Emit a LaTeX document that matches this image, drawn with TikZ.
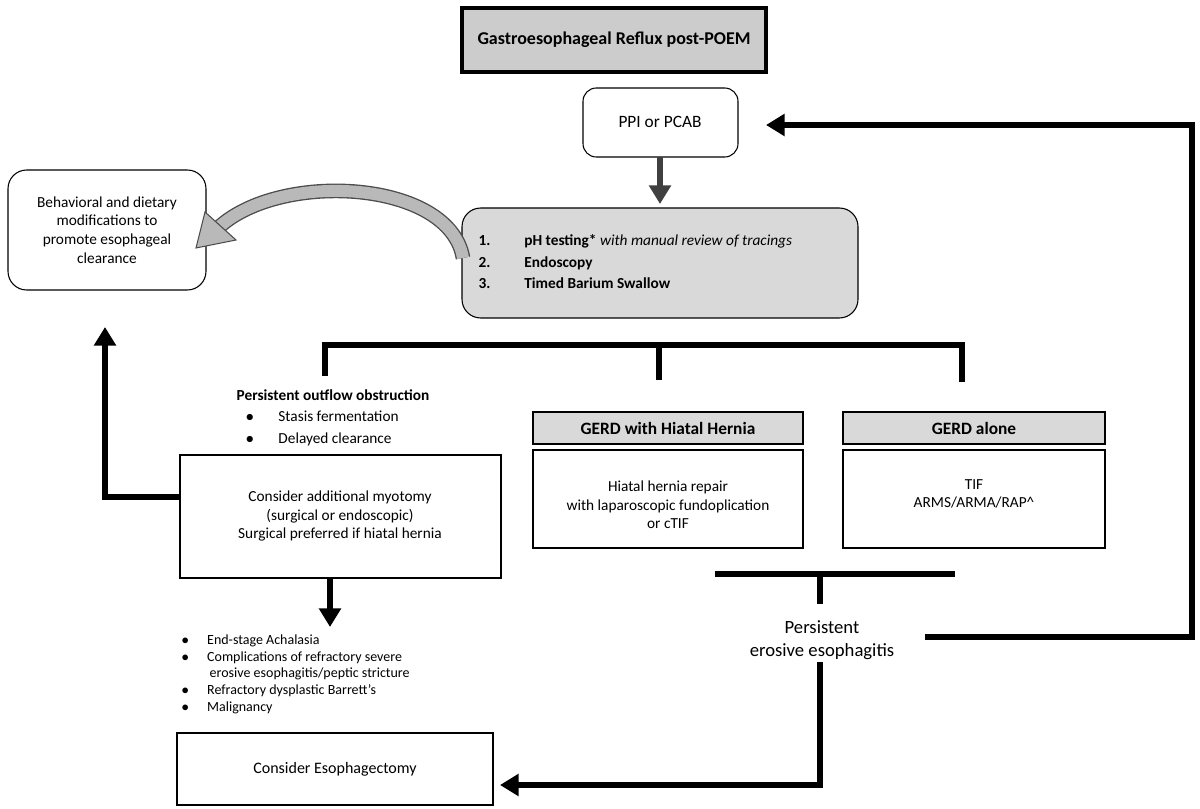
\documentclass[tikz,border=0pt]{standalone}
\usepackage{fontspec}
\setmainfont{Carlito}
\usetikzlibrary{arrows.meta}
\begin{document}
\begin{tikzpicture}[x=0.75pt,y=-0.75pt,
 fat/.style={line width=5pt,-{Triangle[length=14pt,width=16pt]}},
 fatline/.style={line width=5pt},
 txt/.style={font=\fontsize{11.5}{14}\selectfont}]
\useasboundingbox (0,0) rectangle (1200,809);
\draw[line width=3pt,fill=gray!40] (462,8) rectangle (766,72);
\node[font=\fontsize{13.5}{16}\selectfont\bfseries] (titletext) at (614,40) {Gastroesophageal Reflux post-POEM};
\draw[line width=0.8pt,rounded corners=10pt] (583,88) rectangle (738,157);
\node[font=\fontsize{13}{15}\selectfont] (ppi) at (660,122) {PPI or PCAB};
\coordinate (ppib) at (660,157);
\coordinate (testt) at (660,204);
\draw[fat,black!75] (ppib) -- (testt);
\draw[line width=0.8pt,rounded corners=14pt,fill=gray!30] (462,208) rectangle (858,318);
\node[txt,anchor=north west,align=left] (tests) at (474,230) {%
\textbf{1.}\hspace{2.2em}\textbf{pH testing*} \textit{with manual review of tracings}\\[2pt]
\textbf{2.}\hspace{2.2em}\textbf{Endoscopy}\\[2pt]
\textbf{3.}\hspace{2.2em}\textbf{Timed Barium Swallow}};
\draw[line width=0.8pt,rounded corners=14pt] (8,170) rectangle (206,290);
\node[txt,align=center] (beh) at (107,230) {Behavioral and dietary\\modifications to\\promote esophageal\\clearance};
\coordinate (cs) at (463,258);
\draw[line width=11pt,black!70] (cs) .. controls (450,180) and (280,170) .. (218,228);
\draw[line width=9pt,gray!55] (cs) .. controls (450,180) and (280,170) .. (218,228);
\fill[gray!55,draw=black!70,line width=0.8pt] (196,248) -- (205,212) -- (236,240) -- cycle;
\draw[fatline] (322,345) -- (965,345);
\draw[fatline] (325,343) -- (325,376);
\draw[fatline] (659,343) -- (659,380);
\draw[fatline] (962,343) -- (962,382);
\node[txt,anchor=north west,align=left] (obs) at (232,385) {\textbf{Persistent outflow obstruction}\\[2pt]
\hspace{0.6em}$\bullet$\hspace{1.6em}Stasis fermentation\\[2pt]
\hspace{0.6em}$\bullet$\hspace{1.6em}Delayed clearance};
\draw[line width=0.8pt] (180,455) rectangle (501,578);
\node[txt,align=center] (myo) at (340,516) {Consider additional myotomy\\(surgical or endoscopic)\\Surgical preferred if hiatal hernia};
\draw[line width=0.8pt,fill=gray!30] (533,412) rectangle (803,444);
\node[font=\fontsize{13}{15}\selectfont\bfseries] (h1) at (668,428) {GERD with Hiatal Hernia};
\draw[line width=0.8pt] (533,450) rectangle (803,548);
\node[txt,align=center] (b1) at (668,505) {Hiatal hernia repair\\with laparoscopic fundoplication\\or cTIF};
\draw[line width=0.8pt,fill=gray!30] (843,412) rectangle (1105,444);
\node[font=\fontsize{13}{15}\selectfont\bfseries] (h2) at (974,428) {GERD alone};
\draw[line width=0.8pt] (843,450) rectangle (1105,548);
\node[txt,align=center] (b2) at (974,494) {TIF\\ARMS/ARMA/RAP\^{}};
\draw[fatline] (715,574) -- (955,574);
\draw[fatline] (820,574) -- (820,604);
\node[font=\fontsize{14}{17}\selectfont,align=center] (pee) at (822,640) {Persistent\\erosive esophagitis};
\coordinate (r1) at (1192,637);
\coordinate (r2) at (1192,125);
\coordinate (ppir) at (766,125);
\draw[fatline,-{Triangle[length=14pt,width=16pt]}] (925,637) -- (r1) -- (r2) -- (ppir);
\draw[fat] (180,497) -- (105,497) -- (105,327);
\draw[fat] (330,578) -- (330,627);
\node[font=\fontsize{10.5}{12.5}\selectfont,anchor=north west,align=left] (list) at (177,630) {%
$\bullet$\hspace{1.3em}End-stage Achalasia\\
$\bullet$\hspace{1.3em}Complications of refractory severe\\
\hspace{2em}erosive esophagitis/peptic stricture\\
$\bullet$\hspace{1.3em}Refractory dysplastic Barrett's\\
$\bullet$\hspace{1.3em}Malignancy};
\draw[line width=0.8pt] (177,733) rectangle (493,805);
\node[font=\fontsize{12}{14}\selectfont] (eso) at (335,769) {Consider Esophagectomy};
\draw[fatline,-{Triangle[length=14pt,width=16pt]}] (820,662) -- (820,785) -- (500,785);
\end{tikzpicture}
\end{document}
